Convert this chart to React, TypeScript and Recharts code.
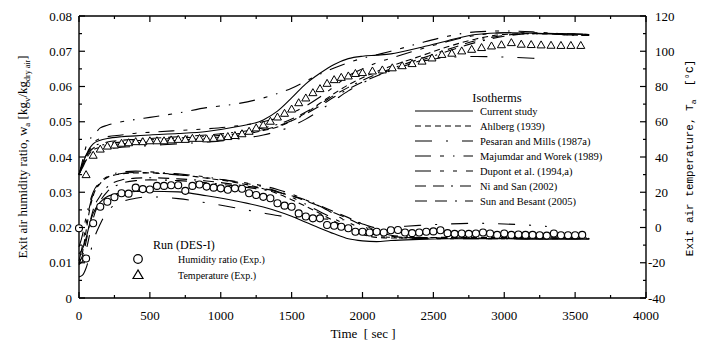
import React from "react";
import { ComposedChart, Line, Scatter, XAxis, YAxis } from "recharts";

// time grid (s) shared by the model curves
const TIME = [0, 25, 50, 75, 100, 150, 200, 300, 400, 500, 700, 900, 1100, 1300, 1400, 1500, 1600, 1700, 1800, 1900, 2000, 2100, 2200, 2400, 2600, 2800, 3000, 3200, 3300, 3400, 3600];

// humidity ratio curves (kg/kg)
const humCurrent = [0.0125, 0.014, 0.017, 0.021, 0.024, 0.0272, 0.0288, 0.0298, 0.0302, 0.0303, 0.0301, 0.029, 0.0276, 0.0258, 0.0246, 0.0232, 0.0215, 0.0198, 0.0182, 0.0168, 0.0162, 0.016, 0.0163, 0.0166, 0.0168, 0.0168, 0.0168, 0.0167, 0.0167, 0.0167, 0.0167];
const humAhlberg = [0.0095, 0.013, 0.019, 0.025, 0.029, 0.0325, 0.0342, 0.0352, 0.0355, 0.0355, 0.035, 0.034, 0.0328, 0.031, 0.0296, 0.0279, 0.026, 0.024, 0.0218, 0.0196, 0.018, 0.0172, 0.017, 0.0171, 0.0172, 0.0172, 0.0172, 0.0171, 0.0171, 0.0171, 0.017];
const humPesaran = [0.006, 0.0065, 0.0085, 0.012, 0.016, 0.021, 0.0245, 0.0272, 0.0283, 0.0287, 0.0282, 0.027, 0.0256, 0.0241, 0.0234, 0.0229, 0.0226, 0.0225, 0.0223, 0.0221, 0.021, 0.0199, 0.0201, 0.0206, 0.021, 0.0212, 0.021, 0.0206, 0.0203, null, null];
const humMajumdar = [0.0145, 0.018, 0.023, 0.027, 0.03, 0.033, 0.0345, 0.0357, 0.036, 0.0358, 0.0352, 0.0343, 0.033, 0.0315, 0.0302, 0.0286, 0.0266, 0.0245, 0.0225, 0.0204, 0.0186, 0.0175, 0.0172, 0.0171, 0.0171, 0.017, 0.017, 0.017, 0.017, 0.017, 0.0169];
const humDupont = [0.0105, 0.015, 0.021, 0.026, 0.0295, 0.0328, 0.0343, 0.0353, 0.0356, 0.0355, 0.0349, 0.0341, 0.0331, 0.0318, 0.0308, 0.0295, 0.0278, 0.026, 0.0238, 0.0215, 0.0195, 0.0178, 0.0172, 0.0169, 0.0168, 0.0168, 0.0168, 0.0168, 0.0168, 0.0168, 0.0168];
const humNiSan = [0.01, 0.012, 0.016, 0.021, 0.025, 0.029, 0.0315, 0.0335, 0.034, 0.0341, 0.0338, 0.0332, 0.0322, 0.031, 0.0302, 0.029, 0.0275, 0.026, 0.0242, 0.0225, 0.0205, 0.0185, 0.0175, 0.017, 0.0169, 0.0169, 0.0169, 0.0169, 0.0169, 0.0169, 0.0169];
const humSun = [0.0095, 0.0105, 0.0135, 0.018, 0.0225, 0.0275, 0.0302, 0.0325, 0.0333, 0.0335, 0.0333, 0.0327, 0.0318, 0.0307, 0.03, 0.029, 0.0278, 0.0262, 0.0245, 0.0228, 0.021, 0.019, 0.0178, 0.0172, 0.017, 0.0169, 0.0168, 0.0168, 0.0168, 0.0168, 0.0168];

// temperature curves (°C)
const tempCurrent = [30, 36, 41, 45, 47.5, 49.5, 50.5, 51.5, 52, 52.5, 53.3, 54.5, 57, 61, 66, 73.5, 81.5, 87.5, 92.5, 95.8, 97.2, 97.8, 98.5, 102, 106, 109.5, 110.5, 110.3, 110, 110, 109.5];
const tempAhlberg = [30, 35, 39, 42, 44, 45.5, 46.5, 47.5, 48, 48.5, 49.5, 50.5, 52, 55, 57, 60.5, 65, 70.5, 76, 81, 85, 88.5, 91.5, 97, 102.5, 107, 109.5, 110, 110, 109.5, 109];
const tempPesaran = [30, 34, 38, 41, 42.5, 43.5, 44.5, 45.5, 46, 46.5, 47.5, 48.5, 50, 52.5, 54.5, 57.5, 61.5, 66.5, 72, 77.5, 82, 86, 89.5, 94, 96.5, 97, 96.7, 96, 95.5, null, null];
const tempMajumdar = [30, 38, 46, 50, 52, 56.5, 58, 60, 61.3, 62.5, 65, 68, 70, 73.5, 76, 79, 83, 87, 90.5, 93.5, 96, 98, 100, 104.5, 108.5, 111, 111.5, 111, 110.5, 110, 109.5];
const tempDupont = [30, 36, 41, 45, 48, 50.5, 51.5, 52.5, 53.5, 54, 55, 56, 57.5, 60, 62, 65, 69, 74, 80, 86, 90, 93.5, 96, 101, 105.5, 109, 110.5, 110.5, 110.2, 110, 109.5];
const tempNiSan = [30, 36, 41, 44, 46, 47.5, 48.5, 49.5, 50, 50.5, 51.5, 52.5, 54, 56.5, 58.5, 61.5, 65.5, 70, 75, 79.5, 83.5, 87, 90, 95.5, 101, 106, 109, 110, 110, 109.5, 109];
const tempSun = [30, 35, 40, 43, 45, 46.5, 47.5, 48.5, 49.2, 49.7, 50.7, 51.7, 53, 55.5, 57.5, 60.5, 64.5, 69, 74, 78.5, 82.5, 86, 89, 94.5, 100, 105, 108.5, 110, 110, 109.5, 109];

// experimental humidity ratio (circles)
const circleTime = [0, 50, 100, 150, 200, 250, 300, 350, 400, 450, 500, 550, 600, 650, 700, 750, 800, 850, 900, 950, 1000, 1050, 1100, 1150, 1200, 1250, 1300, 1350, 1400, 1450, 1500, 1550, 1600, 1650, 1700, 1750, 1800, 1850, 1900, 1950, 2000, 2050, 2100, 2150, 2200, 2250, 2300, 2350, 2400, 2450, 2500, 2550, 2600, 2650, 2700, 2750, 2800, 2850, 2900, 2950, 3000, 3050, 3100, 3150, 3200, 3250, 3300, 3350, 3400, 3450, 3500, 3550];
const circleW = [0.0198, 0.0112, 0.0212, 0.0259, 0.0273, 0.0286, 0.0297, 0.0296, 0.0313, 0.0309, 0.0308, 0.0318, 0.0318, 0.032, 0.032, 0.0304, 0.0318, 0.0322, 0.0316, 0.0313, 0.0311, 0.0307, 0.0311, 0.031, 0.0297, 0.0292, 0.0287, 0.0283, 0.0269, 0.0262, 0.0259, 0.024, 0.0231, 0.0226, 0.0226, 0.0207, 0.0205, 0.0202, 0.0198, 0.0188, 0.0188, 0.0186, 0.0188, 0.0186, 0.0192, 0.0193, 0.0186, 0.0184, 0.0186, 0.0188, 0.0189, 0.0192, 0.0184, 0.0182, 0.0183, 0.0182, 0.0183, 0.0186, 0.0183, 0.0179, 0.0183, 0.0179, 0.018, 0.0179, 0.0179, 0.0178, 0.0177, 0.0183, 0.0178, 0.0178, 0.0178, 0.0179];

// experimental temperature (triangles)
const triTime = [50, 100, 150, 200, 250, 300, 350, 400, 450, 500, 550, 600, 650, 700, 750, 800, 850, 900, 950, 1000, 1050, 1100, 1150, 1200, 1250, 1300, 1350, 1400, 1450, 1500, 1550, 1600, 1650, 1700, 1750, 1800, 1850, 1900, 1950, 2000, 2070, 2140, 2210, 2280, 2350, 2420, 2490, 2560, 2630, 2700, 2770, 2840, 2910, 2980, 3050, 3120, 3190, 3260, 3330, 3400, 3470, 3540];
const triT = [30, 41, 44.5, 46.2, 46.8, 47.8, 48.1, 48.7, 48.7, 49.2, 49.2, 49.2, 49.7, 50, 50, 50.6, 50.6, 50.3, 50.6, 51.2, 51.6, 52.2, 53.2, 54.6, 56.5, 58.2, 60.3, 62.7, 64.8, 67.2, 70.8, 73.5, 76.5, 78.8, 81.8, 83.9, 85.2, 86, 87.4, 87.9, 88.8, 89.4, 90.6, 91.8, 93, 94.4, 96.2, 98.2, 98.9, 100.2, 101.1, 102.1, 103, 103.7, 104.9, 104, 103.8, 103.6, 103.4, 103.3, 103.3, 103.3];

const xTicks = [0, 250, 500, 750, 1000, 1250, 1500, 1750, 2000, 2250, 2500, 2750, 3000, 3250, 3500, 3750, 4000];
const wTicks = [0, 0.005, 0.01, 0.015, 0.02, 0.025, 0.03, 0.035, 0.04, 0.045, 0.05, 0.055, 0.06, 0.065, 0.07, 0.075, 0.08];
const tTicks = [-40, -20, 0, 20, 40, 60, 80, 100, 120];

const models = [
  { key: "cur", name: "Current study", hum: humCurrent, temp: tempCurrent, dash: undefined },
  { key: "ahl", name: "Ahlberg (1939)", hum: humAhlberg, temp: tempAhlberg, dash: "6 4" },
  { key: "pes", name: "Pesaran and Mills (1987a)", hum: humPesaran, temp: tempPesaran, dash: "17 14 2 14" },
  { key: "maj", name: "Majumdar and Worek (1989)", hum: humMajumdar, temp: tempMajumdar, dash: "16 9 4 9 1.5 9" },
  { key: "dup", name: "Dupont et al. (1994,a)", hum: humDupont, temp: tempDupont, dash: "16 9 4 9 4 9" },
  { key: "ni", name: "Ni and San (2002)", hum: humNiSan, temp: tempNiSan, dash: "11 7 11 7 2 7" },
  { key: "sun", name: "Sun and Besant (2005)", hum: humSun, temp: tempSun, dash: "12 8 12 8 2 8" },
];

const rows = TIME.map((t, i) => {
  const r: any = { t };
  models.forEach((m) => {
    r["h_" + m.key] = m.hum[i];
    r["T_" + m.key] = m.temp[i];
  });
  return r;
});
const circles = circleTime.map((t, i) => ({ t, w: circleW[i] }));
const triangles = triTime.map((t, i) => ({ t, T: triT[i] }));

const W = 699;
const H = 334;
const PL = 71;
const PR = 638;
const PT = 8;
const PB = 290;
const SERIF = "Liberation Serif, DejaVu Serif, serif";
const MONO = "Liberation Mono, DejaVu Sans Mono, monospace";
const serif = { fontFamily: SERIF };
const mono = { fontFamily: MONO };

function XTick(p: any) {
  const v = p.payload.value;
  const major = v % 500 === 0;
  const len = major ? 6 : 3;
  return (
    <g>
      <line x1={p.x} x2={p.x} y1={PB} y2={PB - len} stroke="#000" strokeWidth={1.2} />
      <line x1={p.x} x2={p.x} y1={PT} y2={PT + len} stroke="#000" strokeWidth={1.2} />
      {major && (
        <text x={p.x} y={PB + 22} textAnchor="middle" style={serif} fontSize={13} fill="#000">
          {v}
        </text>
      )}
    </g>
  );
}

function WTick(p: any) {
  const v = p.payload.value;
  const major = Math.round(v * 1000) % 10 === 0;
  const len = major ? 6 : 3;
  return (
    <g>
      <line x1={PL} x2={PL + len} y1={p.y} y2={p.y} stroke="#000" strokeWidth={1.2} />
      <line x1={PR} x2={PR - len} y1={p.y} y2={p.y} stroke="#000" strokeWidth={1.2} />
      {major && (
        <text x={PL - 7} y={p.y + 4.5} textAnchor="end" style={serif} fontSize={13} fill="#000">
          {v === 0 ? "0" : v.toFixed(2)}
        </text>
      )}
    </g>
  );
}

function TTick(p: any) {
  const v = p.payload.value;
  return (
    <text x={v < 0 ? PR + 2 : PR + 9} y={p.y + 4.5} textAnchor="start" style={serif} fontSize={13} fill="#000">
      {v}
    </text>
  );
}

function Circle(p: any) {
  return <circle cx={p.cx} cy={p.cy} r={3.5} fill="#fff" stroke="#000" strokeWidth={1.1} />;
}

function Triangle(p: any) {
  const { cx, cy } = p;
  return (
    <polygon
      points={`${cx},${cy - 4} ${cx - 4},${cy + 3} ${cx + 4},${cy + 3}`}
      fill="#fff"
      stroke="#000"
      strokeWidth={1}
    />
  );
}

function Overlay() {
  const lx = 407;
  const ly = 103;
  return (
    <svg width={W} height={H} style={{ position: "absolute", left: 0, top: 0, pointerEvents: "none" }}>
      <line x1={PL} x2={PR} y1={PT} y2={PT} stroke="#000" strokeWidth={1.4} />
      <text transform="translate(19,149) rotate(-90)" textAnchor="middle" style={serif} fontSize={13} fill="#000">
        Exit air humidity ratio, w<tspan fontSize={9} dy={3}>a</tspan>
        <tspan dy={-3}> [kg</tspan>
        <tspan fontSize={9} dy={3}>v</tspan>
        <tspan dy={-3}>/kg</tspan>
        <tspan fontSize={8} dy={3}>dry air</tspan>
        <tspan dy={-3}>]</tspan>
      </text>
      <text transform="translate(685,150) rotate(-90)" textAnchor="middle" style={mono} fontSize={11} fill="#000" xmlSpace="preserve">
        Exit air temperature, T<tspan fontSize={8} dy={3}>a</tspan>
        <tspan dy={-3}>  [°C]</tspan>
      </text>
      <text x={355} y={330} textAnchor="middle" style={serif} fontSize={13} fill="#000" xmlSpace="preserve">
        Time  [ sec ]
      </text>

      <text x={489} y={94} textAnchor="middle" style={serif} fontSize={12.5} fill="#000">
        Isotherms
      </text>
      {models.map((m, i) => (
        <g key={m.key}>
          <line x1={lx} x2={lx + 58} y1={ly + i * 15} y2={ly + i * 15} stroke="#000" strokeWidth={1.2} strokeDasharray={m.dash} />
          <text x={lx + 65} y={ly + i * 15 + 3.5} style={serif} fontSize={10.5} fill="#000">
            {m.name}
          </text>
        </g>
      ))}

      <text x={145} y={241} style={serif} fontSize={12} fill="#000">
        Run (DES-I)
      </text>
      <circle cx={130} cy={251} r={4.3} fill="#fff" stroke="#000" strokeWidth={1.2} />
      <text x={170} y={254.5} style={serif} fontSize={10} fill="#000">
        Humidity ratio (Exp.)
      </text>
      <polygon points="130,262 125,270.5 135,270.5" fill="#fff" stroke="#000" strokeWidth={1.2} />
      <text x={170} y={270.5} style={serif} fontSize={10} fill="#000">
        Temperature (Exp.)
      </text>
    </svg>
  );
}

export default function App() {
  return (
    <div style={{ position: "relative", width: W, height: H, background: "#fff", fontFamily: SERIF }}>
      <ComposedChart width={W} height={H} data={rows} margin={{ top: 8, right: 16, bottom: 14, left: 21 }}>
        <XAxis
          dataKey="t"
          type="number"
          domain={[0, 4000]}
          ticks={xTicks}
          interval={0}
          tickLine={false}
          tick={<XTick />}
          height={30}
          axisLine={{ stroke: "#000", strokeWidth: 1.4 }}
        />
        <YAxis
          yAxisId="w"
          type="number"
          domain={[0, 0.08]}
          ticks={wTicks}
          interval={0}
          tickLine={false}
          tick={<WTick />}
          width={50}
          axisLine={{ stroke: "#000", strokeWidth: 1.4 }}
        />
        <YAxis
          yAxisId="T"
          orientation="right"
          type="number"
          domain={[-40, 120]}
          ticks={tTicks}
          interval={0}
          tickLine={false}
          tick={<TTick />}
          width={45}
          axisLine={{ stroke: "#000", strokeWidth: 1.4 }}
        />
        {models.map((m) => (
          <Line
            key={"h" + m.key}
            yAxisId="w"
            dataKey={"h_" + m.key}
            type="monotone"
            stroke="#000"
            strokeWidth={1.1}
            strokeDasharray={m.dash}
            dot={false}
            activeDot={false}
            isAnimationActive={false}
          />
        ))}
        {models.map((m) => (
          <Line
            key={"T" + m.key}
            yAxisId="T"
            dataKey={"T_" + m.key}
            type="monotone"
            stroke="#000"
            strokeWidth={1.1}
            strokeDasharray={m.dash}
            dot={false}
            activeDot={false}
            isAnimationActive={false}
          />
        ))}
        <Scatter yAxisId="w" data={circles} dataKey="w" shape={<Circle />} isAnimationActive={false} />
        <Scatter yAxisId="T" data={triangles} dataKey="T" shape={<Triangle />} isAnimationActive={false} />
      </ComposedChart>
      <Overlay />
    </div>
  );
}
